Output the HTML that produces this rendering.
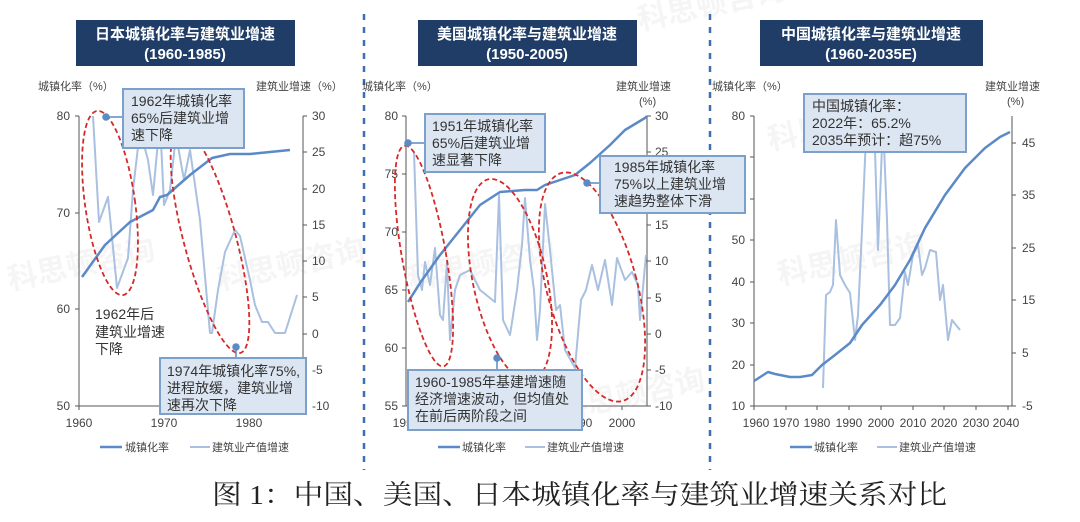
<!DOCTYPE html>
<html><head><meta charset="utf-8"><style>
html,body{margin:0;padding:0;background:#fff;}
svg{display:block;}
text{font-family:"Liberation Sans","Noto Sans CJK SC",sans-serif;}
</style></head><body>
<svg width="1080" height="522" viewBox="0 0 1080 522" xmlns="http://www.w3.org/2000/svg">
<rect width="1080" height="522" fill="#fff"/>
<g fill="#000" opacity="0.04" font-size="30" font-weight="bold">
<text x="640" y="30" transform="rotate(-12 640 30)">科思顿咨询</text>
<text x="10" y="290" transform="rotate(-12 10 290)">科思顿咨询</text>
<text x="220" y="290" transform="rotate(-12 220 290)">科思顿咨询</text>
<text x="410" y="290" transform="rotate(-12 410 290)">科思顿咨询</text>
<text x="780" y="285" transform="rotate(-12 780 285)">科思顿咨询</text>
<text x="770" y="150" transform="rotate(-12 770 150)">科思顿咨询</text>
<text x="560" y="420" transform="rotate(-12 560 420)">科思顿咨询</text>
</g>
<line x1="364" y1="14" x2="364" y2="470" stroke="#3d6fb0" stroke-width="2.5" stroke-dasharray="6,7"/>
<line x1="710" y1="14" x2="710" y2="470" stroke="#3d6fb0" stroke-width="2.5" stroke-dasharray="6,7"/>

<g font-weight="bold" fill="#fff" font-size="15" text-anchor="middle">
<rect x="76" y="20" width="219" height="46" fill="#1f3d66"/>
<text x="185" y="39">日本城镇化率与建筑业增速</text><text x="185" y="59">(1960-1985)</text>
<rect x="418" y="20" width="219" height="46" fill="#1f3d66"/>
<text x="527" y="39">美国城镇化率与建筑业增速</text><text x="527" y="59">(1950-2005)</text>
<rect x="760" y="20" width="223" height="46" fill="#1f3d66"/>
<text x="871" y="39">中国城镇化率与建筑业增速</text><text x="871" y="59">(1960-2035E)</text>
</g>

<g font-size="11" fill="#444">
<text x="38" y="90">城镇化率（%）</text>
<text x="256" y="90">建筑业增速（%）</text>
<g stroke="#555" stroke-width="1" fill="none">
<path d="M79 116V406H303M303 116V406"/>
<path d="M75 116H79M75 213H79M75 309H79M75 406H79"/>
<path d="M303 116h4M303 152h4M303 189h4M303 225h4M303 261h4M303 297h4M303 334h4M303 370h4M303 406h4"/>
<path d="M79 406v4M164 406v4M249 406v4"/>
</g>
<g font-size="12" text-anchor="end"><text x="70" y="120">80</text><text x="70" y="217">70</text><text x="70" y="313">60</text><text x="70" y="410">50</text></g>
<g font-size="12"><text x="312" y="120">30</text><text x="312" y="156">25</text><text x="312" y="193">20</text><text x="312" y="229">15</text><text x="312" y="265">10</text><text x="312" y="301">5</text><text x="312" y="338">0</text><text x="312" y="374">-5</text><text x="312" y="410">-10</text></g>
<g font-size="12" text-anchor="middle"><text x="79" y="427">1960</text><text x="164" y="427">1970</text><text x="249" y="427">1980</text></g>
<line x1="100" y1="447" x2="122" y2="447" stroke="#5b8ac7" stroke-width="2.5"/><text x="125" y="451">城镇化率</text>
<line x1="190" y1="447" x2="210" y2="447" stroke="#a9c0e0" stroke-width="2"/><text x="212" y="451">建筑业产值增速</text>

<text x="362" y="90">城镇化率（%）</text>
<text x="616" y="90">建筑业增速</text><text x="639" y="105">(%)</text>
<g stroke="#555" stroke-width="1" fill="none">
<path d="M406 116V406H647M647 116V406"/>
<path d="M402 116h4M402 174h4M402 232h4M402 290h4M402 348h4M402 406h4"/>
<path d="M647 116h4M647 152h4M647 189h4M647 225h4M647 261h4M647 298h4M647 334h4M647 370h4M647 406h4"/>
<path d="M579 406v4M622 406v4"/>
</g>
<g font-size="12" text-anchor="end"><text x="398" y="120">80</text><text x="398" y="178">75</text><text x="398" y="236">70</text><text x="398" y="294">65</text><text x="398" y="352">60</text><text x="398" y="410">55</text></g>
<g font-size="12"><text x="655" y="120">30</text><text x="655" y="156">25</text><text x="655" y="229">15</text><text x="655" y="265">10</text><text x="655" y="302">5</text><text x="655" y="338">0</text><text x="655" y="374">-5</text><text x="655" y="410">-10</text></g>
<g font-size="12" text-anchor="middle"><text x="406" y="427">1950</text><text x="579" y="427">1990</text><text x="622" y="427">2000</text></g>
<line x1="438" y1="447" x2="460" y2="447" stroke="#5b8ac7" stroke-width="2.5"/><text x="462" y="451">城镇化率</text>
<line x1="525" y1="447" x2="545" y2="447" stroke="#a9c0e0" stroke-width="2"/><text x="547" y="451">建筑业产值增速</text>

<text x="712" y="90">城镇化率（%）</text>
<text x="985" y="90">建筑业增速</text><text x="1007" y="105">(%)</text>
<g stroke="#555" stroke-width="1" fill="none">
<path d="M754 116V406H1012M1012 116V406"/>
<path d="M750 116h4M750 157h4M750 199h4M750 240h4M750 282h4M750 323h4M750 365h4M750 406h4"/>
<path d="M1012 143h4M1012 195h4M1012 248h4M1012 300h4M1012 353h4M1012 406h4"/>
<path d="M754 406v4M786 406v4M817 406v4M849 406v4M881 406v4M913 406v4M944 406v4M976 406v4M1008 406v4"/>
</g>
<g font-size="12" text-anchor="end"><text x="745" y="120">80</text><text x="745" y="203">60</text><text x="745" y="244">50</text><text x="745" y="286">40</text><text x="745" y="327">30</text><text x="745" y="369">20</text><text x="745" y="410">10</text></g>
<g font-size="12"><text x="1022" y="147">45</text><text x="1022" y="199">35</text><text x="1022" y="252">25</text><text x="1022" y="304">15</text><text x="1022" y="357">5</text><text x="1022" y="410">-5</text></g>
<g font-size="12" text-anchor="middle"><text x="756" y="427">1960</text><text x="786" y="427">1970</text><text x="817" y="427">1980</text><text x="849" y="427">1990</text><text x="881" y="427">2000</text><text x="913" y="427">2010</text><text x="944" y="427">2020</text><text x="976" y="427">2030</text><text x="1006" y="427">2040</text></g>
<line x1="790" y1="447" x2="812" y2="447" stroke="#5b8ac7" stroke-width="2.5"/><text x="814" y="451">城镇化率</text>
<line x1="877" y1="447" x2="897" y2="447" stroke="#a9c0e0" stroke-width="2"/><text x="899" y="451">建筑业产值增速</text>
</g>

<g fill="none" stroke-linejoin="round">
<polyline stroke="#a9c0e0" stroke-width="2" points="93,116 99,222 108,197 117,288 128,258 133,190 140,130 148,160 153,195 160,120 164,205 170,190 176,135 184,180 190,150 200,220 210,333 212,333 218,290 225,252 235,230 240,236 250,280 255,305 262,322 268,322 275,333 285,333 297,295"/>
<polyline stroke="#5b8ac7" stroke-width="2.5" points="82,277 105,245 130,222 153,210 160,197 167,195 190,175 212,158 230,154 250,154 290,150"/>
<polyline stroke="#a9c0e0" stroke-width="2" points="414,152 418,275 422,290 425,262 430,285 435,248 440,315 443,320 447,262 450,340 455,290 460,275 470,270 480,290 490,298 495,302 499,195 503,320 510,335 517,290 522,245 525,198 530,260 534,290 537,340 540,310 545,204 550,250 556,310 560,305 565,350 575,368 581,300 586,290 592,265 598,290 605,260 612,305 617,258 625,280 632,272 638,285 640,320 646,255"/>
<polyline stroke="#5b8ac7" stroke-width="2.5" points="408,302 420,283 440,255 460,230 480,205 500,192 525,190 537,190 545,185 560,180 575,175 590,163 610,145 625,130 645,118 647,116"/>
<polyline stroke="#a9c0e0" stroke-width="2" points="823,388 826,295 830,292 833,285 836,220 840,275 845,285 850,293 855,340 858,315 862,230 866,136 870,120 875,150 878,250 883,120 887,220 890,325 895,325 900,318 905,272 908,285 913,255 918,245 922,275 925,268 930,250 936,252 940,300 943,285 948,340 952,320 956,325 960,330"/>
<polyline stroke="#5b8ac7" stroke-width="2.5" points="754,381 768,372 775,374 790,377 800,377 812,375 822,365 835,355 850,343 862,325 880,305 895,285 910,260 925,228 945,195 965,168 985,148 1000,137 1010,132"/>
</g>

<g fill="none" stroke="#d42a2a" stroke-width="1.8" stroke-dasharray="5,3">
<ellipse cx="110" cy="203" rx="25" ry="93" transform="rotate(-8 110 203)"/>
<ellipse cx="210" cy="240" rx="26" ry="117" transform="rotate(-15 210 240)"/>
<ellipse cx="424" cy="256" rx="22" ry="112" transform="rotate(-10 424 256)"/>
<ellipse cx="510" cy="280" rx="37" ry="103" transform="rotate(-12 510 280)"/>
<ellipse cx="592" cy="287" rx="45" ry="118" transform="rotate(-15 592 287)"/>
</g>

<g stroke="#5b8ac7" stroke-width="1.5">
<line x1="106" y1="117" x2="123" y2="117"/><circle cx="106" cy="117" r="3" fill="#5b8ac7"/>
<line x1="236" y1="347" x2="236" y2="358"/><circle cx="236" cy="347" r="3" fill="#5b8ac7"/>
<line x1="408" y1="143" x2="425" y2="143"/><circle cx="408" cy="143" r="3" fill="#5b8ac7"/>
<line x1="587" y1="183" x2="600" y2="183"/><circle cx="587" cy="183" r="3" fill="#5b8ac7"/>
<line x1="497" y1="358" x2="497" y2="370"/><circle cx="497" cy="358" r="3" fill="#5b8ac7"/>
</g>
<g fill="#dce6f2" stroke="#7ba0cc" stroke-width="2">
<rect x="123" y="89" width="121" height="59"/>
<rect x="160" y="358" width="146" height="56"/>
<rect x="425" y="114" width="120" height="58"/>
<rect x="600" y="156" width="145" height="57"/>
<rect x="408" y="370" width="174" height="60"/>
<rect x="804" y="94" width="162" height="58"/>
</g>
<g font-size="14" fill="#333">
<text x="131" y="106">1962年城镇化率</text><text x="131" y="123">65%后建筑业增</text><text x="131" y="140">速下降</text>
<text x="167" y="376">1974年城镇化率75%,</text><text x="167" y="393">进程放缓，建筑业增</text><text x="167" y="410">速再次下降</text>
<text x="95" y="319">1962年后</text><text x="95" y="337">建筑业增速</text><text x="95" y="354">下降</text>
<text x="432" y="131">1951年城镇化率</text><text x="432" y="148">65%后建筑业增</text><text x="432" y="165">速显著下降</text>
<text x="614" y="172">1985年城镇化率</text><text x="614" y="189">75%以上建筑业增</text><text x="614" y="206">速趋势整体下滑</text>
<text x="415" y="387">1960-1985年基建增速随</text><text x="415" y="404">经济增速波动，但均值处</text><text x="415" y="421">在前后两阶段之间</text>
<text x="812" y="111">中国城镇化率：</text><text x="812" y="128">2022年：65.2%</text><text x="812" y="145">2035年预计：超75%</text>
</g>

<text x="212" y="504" font-size="27" fill="#222" textLength="735" lengthAdjust="spacingAndGlyphs" style="font-family:'Liberation Serif','Noto Serif CJK SC',serif">图 1：中国、美国、日本城镇化率与建筑业增速关系对比</text>
</svg>
</body></html>
